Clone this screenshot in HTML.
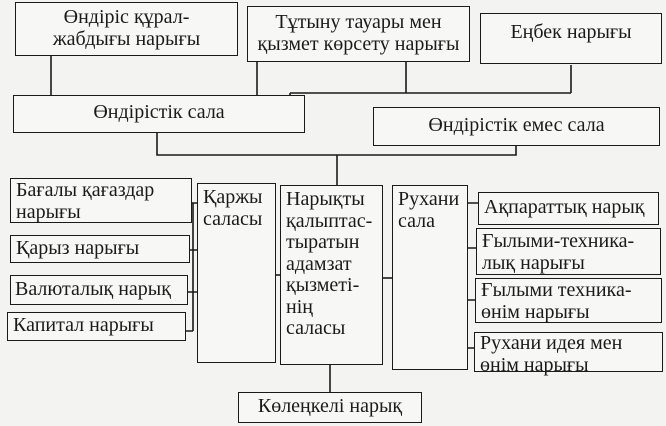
<!DOCTYPE html>
<html><head><meta charset="utf-8"><style>
html,body{margin:0;padding:0}
body{width:666px;height:426px;background:#f3f3f1;position:relative;overflow:hidden;font-family:"Liberation Serif","DejaVu Serif",serif;color:#1a1a1a}
.b{position:absolute;box-sizing:border-box;border:1.6px solid #1a1a1a;background:#f7f7f5;font-size:20px;line-height:21.5px;white-space:nowrap}
.c{text-align:center}
svg{position:absolute;left:0;top:0}
</style></head><body>
<svg width="666" height="426" stroke="#1a1a1a" stroke-width="1.6" fill="none">
<path d="M51 55V95"/>
<path d="M257 56V95"/>
<path d="M406 62V93 M290 93H571 M571 65V93 M290 93V98"/>
<path d="M157 133V155H516V146"/>
<path d="M337 155V185"/>
<path d="M193 203V331 M190 203H197 M190 250H197 M188 292H197 M186 331H193"/>
<path d="M276 275H280"/>
<path d="M383 278H392"/>
<path d="M468 203H478 M468 248H478 M468 300H478 M468 348H474"/>
<path d="M330 365V392"/>
</svg>
<div class="b c" style="left:15px;top:2px;width:223px;height:54px;padding-top:4px">Өндіріс құрал-<br>жабдығы нарығы</div>
<div class="b c" style="left:247px;top:6px;width:223px;height:56px;padding-top:5px">Тұтыну тауары мен<br>қызмет көрсету нарығы</div>
<div class="b c" style="left:480px;top:13px;width:182px;height:51px;padding-top:8px">Еңбек нарығы</div>
<div class="b c" style="left:13px;top:95px;width:292px;height:38px;padding-top:6px">Өндірістік сала</div>
<div class="b c" style="left:373px;top:107px;width:287px;height:39px;padding-top:7px">Өндірістік емес сала</div>
<div class="b" style="left:10px;top:178px;width:182px;height:45px;padding:1px 0 0 5px">Бағалы қағаздар<br>нарығы</div>
<div class="b" style="left:10px;top:235px;width:180px;height:28px;padding:2px 0 0 5px">Қарыз нарығы</div>
<div class="b" style="left:10px;top:275px;width:178px;height:30px;padding:3px 0 0 4px">Валюталық нарық</div>
<div class="b" style="left:7px;top:312px;width:179px;height:29px;padding:2px 0 0 5px">Капитал нарығы</div>
<div class="b" style="left:197px;top:183px;width:79px;height:180px;padding:3px 0 0 5px">Қаржы<br>саласы</div>
<div class="b" style="left:280px;top:185px;width:103px;height:180px;padding:3px 0 0 5px">Нарықты<br>қалыптас-<br>тыратын<br>адамзат<br>қызметі-<br>нің<br>саласы</div>
<div class="b" style="left:392px;top:185px;width:76px;height:185px;padding:3px 0 0 5px">Рухани<br>сала</div>
<div class="b" style="left:478px;top:192px;width:181px;height:33px;padding:4px 0 0 5px">Ақпараттық нарық</div>
<div class="b" style="left:476px;top:228px;width:185px;height:47px;padding:2px 0 0 5px">Ғылыми-техника-<br>лық нарығы</div>
<div class="b" style="left:475px;top:278px;width:187px;height:45px;padding:1px 0 0 5px">Ғылыми техника-<br>өнім нарығы</div>
<div class="b" style="left:474px;top:332px;width:189px;height:40px;padding:0 0 0 5px">Рухани идея мен<br>өнім нарығы</div>
<div class="b c" style="left:238px;top:392px;width:184px;height:31px;padding-top:3px">Көлеңкелі нарық</div>
</body></html>
